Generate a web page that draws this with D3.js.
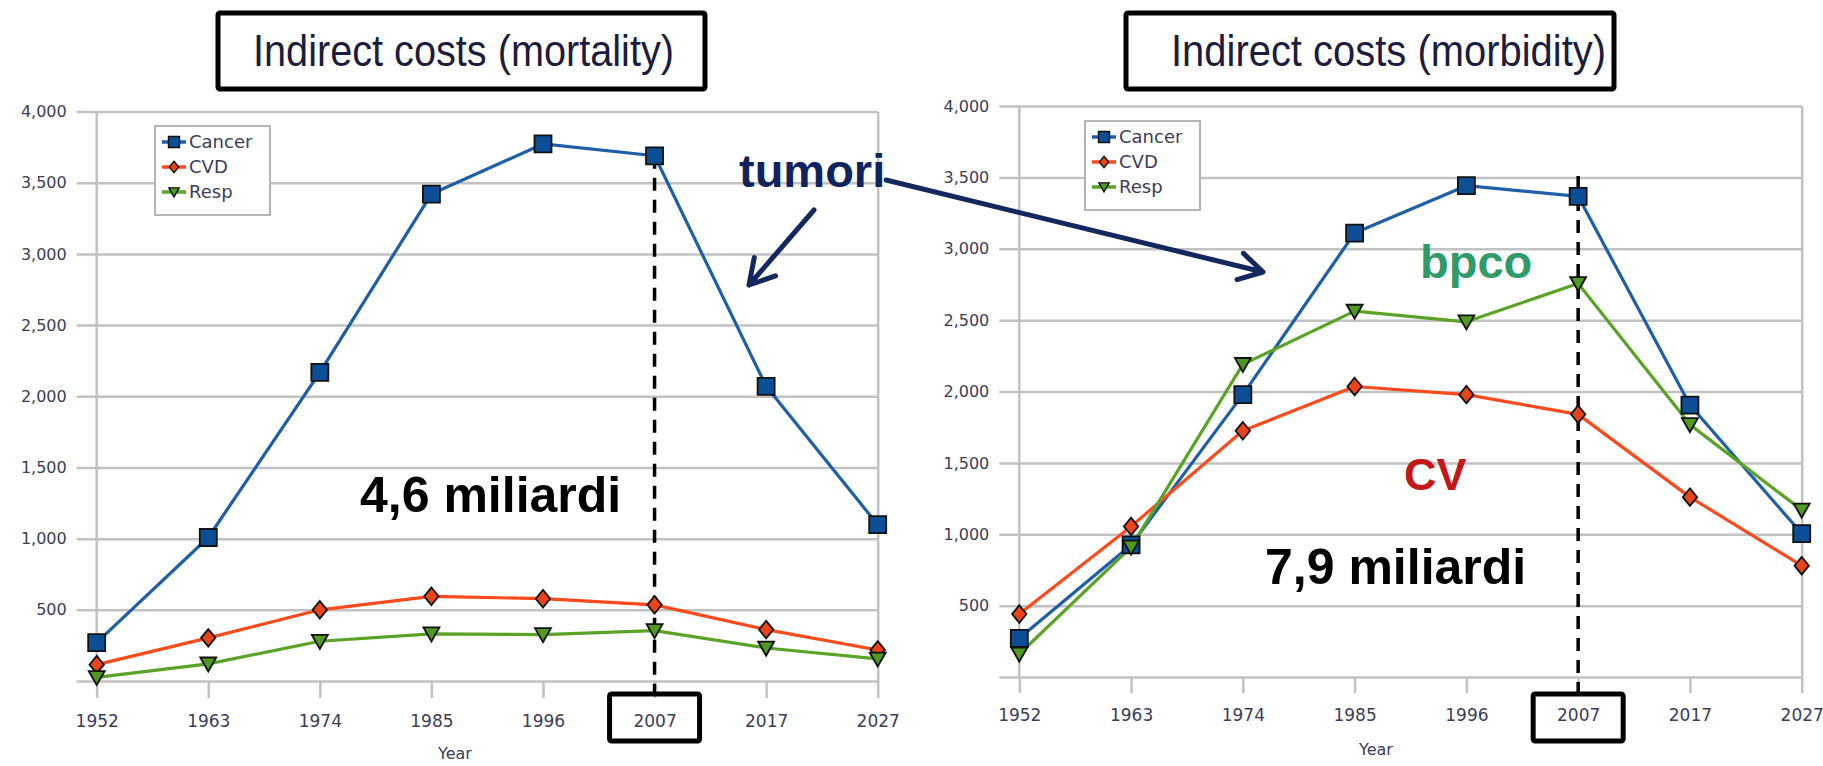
<!DOCTYPE html>
<html>
<head>
<meta charset="utf-8">
<script src="https://cdn.jsdelivr.net/npm/d3@7"></script>
<style>
	html, body { margin: 0; padding: 0; background: #fff; }
	svg { display: block; }
	.axis text { font-family: "DejaVu Sans", sans-serif; fill: #3c3c58; }
	.note { font-family: "Liberation Sans", Arial, sans-serif; font-weight: bold; }
</style>
</head>
<body>
<svg id="chart" width="1823" height="766"></svg>
<script>
// values (millions)
var years = ['1952', '1963', '1974', '1985', '1996', '2007', '2017', '2027'];
var yTicks = [0, 500, 1000, 1500, 2000, 2500, 3000, 3500, 4000];
var seriesNames = ['Cancer', 'CVD', 'Resp'];

var mortalityCancer = [270, 1008, 2168, 3420, 3772, 3689, 2070, 1098];
var mortalityCvd = [115, 303, 500, 595, 578, 535, 361, 218];
var mortalityResp = [25, 120, 279, 331, 326, 354, 232, 155];

var morbidityCancer = [271, 925, 1978, 3110, 3442, 3367, 1905, 1005];
var morbidityCvd = [441, 1055, 1725, 2035, 1978, 1840, 1260, 780];
var morbidityResp = [161, 910, 2190, 2563, 2488, 2757, 1768, 1170];

var svg = d3.select('#chart');
var fmt = d3.format(',');
var grid = '#c2c2c2';
var navy = '#14275f';

// marker shapes
var symDiamond = { draw: function (ctx, size) {
	var r = Math.sqrt(size) / 2;
	ctx.moveTo(0, -r * 1.1); ctx.lineTo(r * 0.9, 0); ctx.lineTo(0, r * 1.1); ctx.lineTo(-r * 0.9, 0); ctx.closePath();
}};
var symTriDown = { draw: function (ctx, size) {
	var r = Math.sqrt(size) / 2;
	ctx.moveTo(-r, -r * 0.8); ctx.lineTo(r, -r * 0.8); ctx.lineTo(0, r * 0.95); ctx.closePath();
}};

var styles = [
	{ line: '#1f5ea8', fill: '#0c4f96', type: d3.symbolSquare, size: 17 * 17 },
	{ line: '#ff4a1c', fill: '#ea4418', type: symDiamond, size: 16 * 16 },
	{ line: '#5aa326', fill: '#4f9a1f', type: symTriDown, size: 16 * 16 }
];

function drawChart(cfg) {
	var g = svg.append('g');

	var x = d3.scalePoint().domain(years).range([cfg.x0, cfg.x1]);
	var y = d3.scaleLinear().domain([0, 4000]).range([cfg.yBottom, cfg.yTop]);

	// gridlines + labels: axis placed on the right border, ticks reach back past the left axis
	var yAxis = d3.axisLeft(y).tickValues(yTicks)
		.tickSize(cfg.x1 - cfg.x0 + 20).tickSizeOuter(0).tickPadding(10)
		.tickFormat(function (d) { return d ? fmt(d) : ''; });
	var ya = g.append('g').attr('class', 'axis')
		.attr('transform', 'translate(' + cfg.x1 + ',0)')
		.call(yAxis);
	ya.selectAll('line, .domain').attr('stroke', grid).attr('stroke-width', 2.5);
	ya.selectAll('text').attr('font-size', 16);

	g.append('line')
		.attr('x1', cfg.x0).attr('x2', cfg.x0)
		.attr('y1', y(4000)).attr('y2', y(0))
		.attr('stroke', grid).attr('stroke-width', 2.5);

	var xa = g.append('g').attr('class', 'axis')
		.attr('transform', 'translate(0,' + y(0) + ')')
		.call(d3.axisBottom(x).tickSize(cfg.tick).tickSizeOuter(0).tickPadding(cfg.tickPad));
	xa.select('.domain').remove();
	xa.selectAll('line').attr('stroke', grid).attr('stroke-width', 2.5);
	xa.selectAll('text').attr('font-size', 17);

	g.append('text').attr('class', 'axis')
		.attr('x', cfg.yearX).attr('y', cfg.yearY)
		.attr('text-anchor', 'middle')
		.attr('font-family', '"DejaVu Sans", sans-serif')
		.attr('font-size', 16).attr('fill', '#3c3c58')
		.text('Year');

	// dashed marker for 2007 and its framed tick label
	g.append('line')
		.attr('x1', x('2007')).attr('x2', x('2007'))
		.attr('y1', y(cfg.dashFrom)).attr('y2', cfg.boxTop)
		.attr('stroke', '#000').attr('stroke-width', 3.5)
		.attr('stroke-dasharray', '13,9');
	g.append('rect')
		.attr('x', x('2007') - 45).attr('y', cfg.boxTop)
		.attr('width', 90).attr('height', 47).attr('rx', 2)
		.attr('fill', 'none').attr('stroke', '#000').attr('stroke-width', 5);

	// series lines then markers
	var line = d3.line()
		.x(function (d, i) { return x(years[i]); })
		.y(function (d) { return y(d); });

	cfg.data.forEach(function (vals, s) {
		g.append('path')
			.attr('d', line(vals))
			.attr('fill', 'none')
			.attr('stroke', styles[s].line)
			.attr('stroke-width', 3.2)
			.attr('stroke-linejoin', 'round');
	});
	cfg.data.forEach(function (vals, s) {
		g.append('g').selectAll('path')
			.data(vals)
			.enter().append('path')
			.attr('transform', function (d, i) { return 'translate(' + x(years[i]) + ',' + y(d) + ')'; })
			.attr('d', d3.symbol().type(styles[s].type).size(styles[s].size))
			.attr('fill', styles[s].fill)
			.attr('stroke', '#111')
			.attr('stroke-width', 1.8);
	});

	// legend
	var lg = g.append('g').attr('transform', 'translate(' + cfg.legX + ',' + cfg.legY + ')');
	lg.append('rect')
		.attr('width', 115).attr('height', 89)
		.attr('fill', '#fff').attr('stroke', '#b4b4b4').attr('stroke-width', 2);
	seriesNames.forEach(function (name, s) {
		var ly = 16 + s * 25;
		lg.append('line')
			.attr('x1', 7).attr('x2', 31).attr('y1', ly).attr('y2', ly)
			.attr('stroke', styles[s].line).attr('stroke-width', 3.5);
		lg.append('path')
			.attr('transform', 'translate(19,' + ly + ')')
			.attr('d', d3.symbol().type(styles[s].type).size(styles[s].size * 0.42))
			.attr('fill', styles[s].fill).attr('stroke', '#111').attr('stroke-width', 1.4);
		lg.append('text')
			.attr('x', 34).attr('y', ly).attr('dy', '0.36em')
			.attr('font-family', '"DejaVu Sans", sans-serif')
			.attr('font-size', 18).attr('fill', '#3c3c58')
			.text(name);
	});

	// framed title
	svg.append('rect')
		.attr('x', cfg.titleBox[0]).attr('y', 13)
		.attr('width', cfg.titleBox[1] - cfg.titleBox[0]).attr('height', 76)
		.attr('fill', '#fff').attr('stroke', '#000').attr('stroke-width', 5).attr('rx', 2);
	svg.append('text')
		.attr('x', cfg.titleText[0]).attr('y', 66)
		.attr('textLength', cfg.titleText[1] - cfg.titleText[0])
		.attr('lengthAdjust', 'spacingAndGlyphs')
		.attr('font-family', '"Liberation Sans Narrow", "Liberation Sans", Arial, sans-serif')
		.attr('font-size', 44).attr('fill', '#1c1c3e')
		.text(cfg.title);

	svg.append('text').attr('class', 'note')
		.attr('x', cfg.noteX).attr('y', cfg.noteY)
		.attr('font-size', 50).attr('fill', '#000')
		.text(cfg.note);
}

drawChart({
	title: 'Indirect costs (mortality)', titleBox: [218, 705], titleText: [253, 674],
	x0: 96.7, x1: 877.7, yBottom: 681, yTop: 111.5, tick: 17, tickPad: 17,
	yearX: 455, yearY: 759, dashFrom: mortalityCancer[5], boxTop: 694,
	legX: 155, legY: 126, note: '4,6 miliardi', noteX: 360, noteY: 512,
	data: [mortalityCancer, mortalityCvd, mortalityResp]
});

drawChart({
	title: 'Indirect costs (morbidity)', titleBox: [1126, 1614], titleText: [1171, 1606],
	x0: 1019.3, x1: 1801.7, yBottom: 677, yTop: 106, tick: 16, tickPad: 16,
	yearX: 1376, yearY: 755, dashFrom: 3510, boxTop: 694,
	legX: 1085, legY: 121, note: '7,9 miliardi', noteX: 1265, noteY: 584,
	data: [morbidityCancer, morbidityCvd, morbidityResp]
});

// free annotations on top
function arrow(from, to, head) {
	var dx = from[0] - to[0], dy = from[1] - to[1];
	var len = Math.sqrt(dx * dx + dy * dy), ux = dx / len, uy = dy / len;
	var c = Math.cos(Math.PI / 6), s = Math.sin(Math.PI / 6);
	var a = [to[0] + head * (ux * c - uy * s), to[1] + head * (ux * s + uy * c)];
	var b = [to[0] + head * (ux * c + uy * s), to[1] + head * (-ux * s + uy * c)];
	var p = d3.path();
	p.moveTo(from[0], from[1]); p.lineTo(to[0], to[1]);
	p.moveTo(a[0], a[1]); p.lineTo(to[0], to[1]); p.lineTo(b[0], b[1]);
	svg.append('path').attr('d', p.toString())
		.attr('fill', 'none').attr('stroke', navy).attr('stroke-width', 5)
		.attr('stroke-linecap', 'round').attr('stroke-linejoin', 'round');
}

svg.append('text').attr('class', 'note')
	.attr('x', 739).attr('y', 187).attr('font-size', 47).attr('fill', '#10235f')
	.text('tumori');
arrow([814, 210], [749, 285], 28);
arrow([886, 180], [1263, 272], 27);

svg.append('text').attr('class', 'note')
	.attr('x', 1420).attr('y', 278).attr('font-size', 47).attr('fill', '#2f9a6a')
	.text('bpco');
svg.append('text').attr('class', 'note')
	.attr('x', 1404).attr('y', 490).attr('font-size', 45).attr('fill', '#c41818')
	.text('CV');
</script>
</body>
</html>
